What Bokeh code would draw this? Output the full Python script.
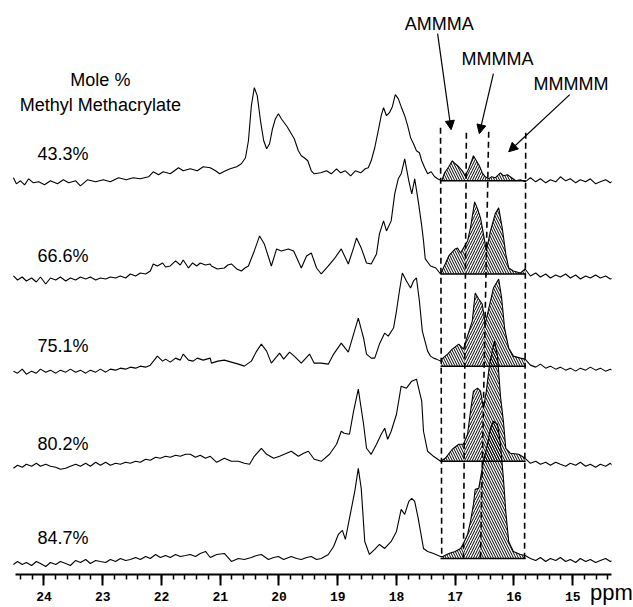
import numpy as np
from bokeh.plotting import figure
from bokeh.models import Range1d, FixedTicker, ColumnDataSource, Arrow, NormalHead
from bokeh.core.properties import value, field
from bokeh.embed import file_html
from bokeh.resources import INLINE

# ---- data: (ppm, intensity) ---------------------------------------------
t433 = [(24.52,4),(24.47,-2),(24.40,1),(24.33,-3),(24.26,3),(24.18,-1),(24.09,0),(23.99,-3),(23.89,1),(23.77,-2),(23.67,2),(23.58,-1),(23.46,1),(23.38,-4),(23.26,2),(23.12,0),(22.99,2),(22.87,0),(22.73,4),(22.60,2),(22.48,4),(22.36,3),(22.22,5),(22.14,10),(22.05,7),(21.97,10),(21.85,8),(21.71,14),(21.63,11),(21.51,13),(21.39,11),(21.29,15),(21.17,14),(21.08,11),(21.01,8),(20.91,11),(20.83,13),(20.72,15),(20.64,18),(20.57,24),(20.52,41),(20.47,76),(20.42,94),(20.37,86),(20.31,59),(20.26,41),(20.21,33),(20.16,38),(20.11,53),(20.06,63),(20.01,68),(19.96,63),(19.91,59),(19.86,55),(19.80,49),(19.74,43),(19.67,31),(19.62,26),(19.57,24),(19.51,21),(19.45,11),(19.40,8),(19.29,9),(19.19,11),(19.11,8),(19.02,13),(18.95,9),(18.87,11),(18.78,6),(18.70,11),(18.61,9),(18.53,13),(18.48,14),(18.43,21),(18.37,34),(18.31,51),(18.26,66),(18.22,74),(18.17,66),(18.12,69),(18.07,75),(18.02,87),(17.97,83),(17.92,75),(17.86,66),(17.81,56),(17.76,44),(17.71,38),(17.66,31),(17.61,29),(17.57,21),(17.52,14),(17.47,8),(17.41,10),(17.35,5),(17.30,3),(17.23,1),(17.18,9),(17.11,15),(17.05,21),(17.00,18),(16.94,15),(16.88,11),(16.83,6),(16.77,13),(16.72,21),(16.69,26),(16.64,21),(16.59,16),(16.54,9),(16.49,5),(16.43,3),(16.38,5),(16.32,4),(16.23,9),(16.18,6),(16.11,7),(16.04,4),(15.97,1),(15.89,2),(15.81,0),(15.72,4),(15.63,0),(15.55,3),(15.46,-1),(15.38,2),(15.29,0),(15.21,5),(15.12,1),(15.04,3),(14.95,-1),(14.87,2),(14.78,0),(14.70,3),(14.61,-2),(14.53,0),(14.44,2),(14.36,-1),(14.27,3),(14.19,0),(14.10,1),(14.02,3),(13.97,1)]

t666 = [(24.52,2),(24.45,-2),(24.37,1),(24.30,-3),(24.21,0),(24.13,-4),(24.06,1),(23.97,-6),(23.89,0),(23.80,-2),(23.72,1),(23.63,-3),(23.55,0),(23.46,-2),(23.38,1),(23.29,-1),(23.21,1),(23.12,-2),(23.04,0),(22.95,-1),(22.87,1),(22.78,0),(22.70,2),(22.61,0),(22.53,4),(22.44,2),(22.36,5),(22.27,4),(22.19,7),(22.14,14),(22.07,12),(21.98,15),(21.93,11),(21.85,12),(21.76,17),(21.68,13),(21.63,18),(21.54,10),(21.47,15),(21.40,12),(21.34,15),(21.25,13),(21.17,14),(21.15,12),(21.05,9),(20.93,10),(20.87,13),(20.81,14),(20.72,9),(20.64,7),(20.58,10),(20.52,12),(20.42,27),(20.33,42),(20.25,34),(20.13,12),(20.04,29),(19.96,27),(19.84,29),(19.75,27),(19.62,10),(19.53,22),(19.45,25),(19.36,10),(19.28,4),(19.16,12),(19.06,19),(18.94,29),(18.82,14),(18.73,30),(18.68,40),(18.60,30),(18.51,15),(18.43,14),(18.34,24),(18.29,44),(18.22,57),(18.17,47),(18.09,57),(18.03,84),(17.97,99),(17.92,104),(17.86,119),(17.79,97),(17.74,84),(17.69,99),(17.63,77),(17.57,52),(17.54,37),(17.51,19),(17.42,12),(17.33,10),(17.25,4),(17.17,14),(17.11,22),(17.08,24),(17.00,29),(16.96,30),(16.91,25),(16.86,30),(16.79,37),(16.74,50),(16.67,76),(16.62,69),(16.57,60),(16.52,44),(16.47,27),(16.40,47),(16.32,64),(16.26,70),(16.20,50),(16.14,24),(16.09,10),(16.01,7),(15.89,5),(15.81,9),(15.72,2),(15.63,5),(15.55,1),(15.46,4),(15.38,0),(15.29,3),(15.21,1),(15.12,4),(15.04,0),(14.95,3),(14.87,-1),(14.78,2),(14.70,0),(14.61,3),(14.53,0),(14.44,2),(14.36,-1),(14.27,1),(14.19,3),(14.10,0),(14.02,5),(13.97,2)]

t751 = [(24.52,0),(24.45,-2),(24.37,2),(24.30,-3),(24.21,0),(24.13,-2),(24.06,2),(23.97,-1),(23.89,1),(23.80,-2),(23.72,1),(23.63,-1),(23.55,2),(23.46,-1),(23.38,1),(23.29,-2),(23.21,1),(23.12,-1),(23.04,2),(22.95,-1),(22.87,2),(22.78,1),(22.70,3),(22.61,2),(22.53,4),(22.44,3),(22.36,5),(22.27,4),(22.19,6),(22.07,15),(21.98,10),(21.93,12),(21.85,9),(21.76,13),(21.68,11),(21.63,17),(21.54,11),(21.46,10),(21.39,13),(21.29,11),(21.17,13),(21.15,8),(21.04,10),(20.93,11),(20.81,9),(20.69,7),(20.59,5),(20.47,10),(20.38,20),(20.30,27),(20.21,20),(20.13,8),(19.99,18),(19.92,12),(19.82,19),(19.74,15),(19.62,8),(19.48,17),(19.40,8),(19.28,8),(19.16,7),(19.07,17),(18.94,28),(18.82,19),(18.73,37),(18.65,53),(18.56,33),(18.51,17),(18.43,13),(18.37,13),(18.29,27),(18.20,38),(18.14,35),(18.05,43),(18.00,60),(17.95,80),(17.90,98),(17.83,90),(17.76,83),(17.71,90),(17.66,93),(17.61,70),(17.56,40),(17.47,20),(17.42,15),(17.37,13),(17.32,12),(17.25,10),(17.21,13),(17.13,17),(17.05,22),(16.94,27),(16.86,22),(16.83,28),(16.71,50),(16.66,78),(16.60,72),(16.54,67),(16.49,47),(16.40,70),(16.35,83),(16.26,92),(16.21,73),(16.16,43),(16.09,23),(16.01,15),(15.89,13),(15.81,12),(15.72,6),(15.63,4),(15.55,7),(15.46,3),(15.38,5),(15.29,2),(15.21,4),(15.12,1),(15.04,3),(14.95,0),(14.87,3),(14.78,1),(14.70,4),(14.61,1),(14.53,3),(14.44,0),(14.36,2),(14.27,-1),(14.19,2),(14.10,0),(14.02,3),(13.97,1)]

t802 = [(24.52,-2),(24.45,1),(24.37,-1),(24.30,2),(24.21,0),(24.13,3),(24.06,0),(23.97,2),(23.89,0),(23.80,-1),(23.72,-3),(23.63,-2),(23.55,0),(23.46,2),(23.38,0),(23.29,3),(23.21,0),(23.12,4),(23.04,1),(22.95,4),(22.87,1),(22.78,3),(22.70,2),(22.61,4),(22.53,3),(22.44,5),(22.36,4),(22.27,7),(22.19,6),(22.10,9),(22.02,8),(21.93,10),(21.85,9),(21.76,11),(21.68,10),(21.59,12),(21.51,12),(21.42,9),(21.34,11),(21.25,8),(21.17,10),(21.06,4),(20.93,8),(20.81,5),(20.69,5),(20.59,3),(20.50,2),(20.42,10),(20.30,18),(20.21,12),(20.09,8),(19.99,10),(19.87,13),(19.79,15),(19.67,10),(19.58,13),(19.50,15),(19.40,7),(19.28,5),(19.14,12),(19.02,22),(18.94,35),(18.89,33),(18.80,32),(18.73,55),(18.65,77),(18.56,42),(18.51,18),(18.43,12),(18.34,22),(18.26,32),(18.20,38),(18.15,27),(18.09,35),(18.00,52),(17.92,80),(17.83,78),(17.74,85),(17.66,87),(17.57,65),(17.54,35),(17.47,15),(17.37,10),(17.25,5),(17.17,8),(17.05,17),(16.94,22),(16.86,22),(16.79,32),(16.74,55),(16.69,75),(16.62,78),(16.57,75),(16.52,58),(16.47,75),(16.42,100),(16.37,115),(16.33,125),(16.28,110),(16.23,70),(16.18,45),(16.14,18),(16.06,13),(15.92,12),(15.81,8),(15.72,3),(15.63,5),(15.55,2),(15.46,4),(15.38,1),(15.29,4),(15.21,2),(15.12,0),(15.04,3),(14.95,1),(14.87,4),(14.78,0),(14.70,2),(14.61,-1),(14.53,2),(14.44,0),(14.36,3),(14.27,-2),(14.19,1),(14.10,-1),(14.02,2),(13.97,0)]

t847 = [(24.52,-1),(24.45,2),(24.37,-1),(24.30,1),(24.21,-2),(24.13,2),(24.06,0),(23.97,-3),(23.89,1),(23.80,-1),(23.72,2),(23.63,0),(23.55,-2),(23.46,3),(23.38,1),(23.29,4),(23.21,0),(23.12,3),(23.04,2),(22.95,1),(22.87,4),(22.78,2),(22.70,5),(22.61,3),(22.53,4),(22.44,6),(22.36,4),(22.27,7),(22.19,5),(22.10,9),(22.02,6),(21.93,8),(21.85,6),(21.76,9),(21.68,7),(21.59,8),(21.51,9),(21.42,7),(21.34,10),(21.25,12),(21.17,6),(21.06,9),(20.93,10),(20.81,2),(20.69,5),(20.59,4),(20.47,6),(20.38,8),(20.30,9),(20.18,4),(20.09,6),(20.01,7),(19.92,4),(19.79,7),(19.70,5),(19.62,4),(19.53,6),(19.45,7),(19.36,4),(19.28,5),(19.16,9),(19.07,17),(18.99,29),(18.92,33),(18.87,24),(18.80,45),(18.71,72),(18.65,95),(18.60,75),(18.54,22),(18.46,9),(18.37,14),(18.29,19),(18.20,15),(18.09,22),(18.00,32),(17.92,54),(17.86,49),(17.79,62),(17.74,65),(17.69,62),(17.63,45),(17.57,25),(17.54,15),(17.47,12),(17.37,10),(17.25,7),(17.21,7),(17.11,10),(17.00,12),(16.91,15),(16.86,20),(16.79,29),(16.74,42),(16.69,59),(16.66,74),(16.60,75),(16.57,85),(16.52,102),(16.45,119),(16.40,135),(16.35,142),(16.28,139),(16.23,119),(16.18,85),(16.14,52),(16.09,22),(16.01,12),(15.89,9),(15.81,8),(15.72,5),(15.63,3),(15.55,6),(15.46,2),(15.38,5),(15.29,3),(15.21,6),(15.12,2),(15.04,4),(14.95,1),(14.87,5),(14.78,2),(14.70,4),(14.61,1),(14.53,3),(14.44,5),(14.36,2),(14.27,4),(14.19,1),(14.10,3),(14.02,4),(13.97,2)]

traces = [t433, t666, t751, t802, t847]
sample_labels = ["43.3%", "66.6%", "75.1%", "80.2%", "84.7%"]
trace_offsets = [392, 296, 203, 108, 11]       # vertical stacking
hatch_base = [1, 4, 5, 5, 5]                   # integration baseline level
region_names = ["AMMMA", "MMMMA", "MMMMM"]

# dashed boundary lines of the integrated regions (ppm at top / bottom)
dash_top_ppm = [17.25, 16.81, 16.43, 15.80]
dash_bot_ppm = [17.23, 16.86, 16.57, 15.82]
dash_top_y = [446, 441, 442, 441]
dash_bot_y = [16, 16, 16, 16]
region_span = (17.25, 15.80)

tick_values = list(range(15, 25))
minor_values = [round(14.4 + 0.2 * i, 1) for i in range(51)]

# ---- figure --------------------------------------------------------------
p = figure(width=633, height=607, x_range=Range1d(24.740, 14.340),
           y_range=Range1d(0, 573), output_backend="svg", toolbar_location=None,
           y_axis_location=None, min_border=0, min_border_right=22)
p.outline_line_color = None
p.grid.visible = False

hatches = ["\\", "/", "\\"]
rx, ry, rp = [], [], []
for i, tr in enumerate(traces):
    px = np.array([a for a, b in tr])
    py = np.array([b for a, b in tr], dtype=float) + trace_offsets[i]
    base = trace_offsets[i] + hatch_base[i]
    bounds = []
    for k in range(4):
        t = (dash_top_y[k] - base) / (dash_top_y[k] - dash_bot_y[k])
        bounds.append(dash_top_ppm[k] + (dash_bot_ppm[k] - dash_top_ppm[k]) * t)
    for j in range(3):
        bl, br = bounds[j], bounds[j + 1]
        m = (px < bl) & (px > br)
        yl = float(np.interp(bl, px[::-1], py[::-1]))
        yr = float(np.interp(br, px[::-1], py[::-1]))
        rx.append([bl, bl] + list(px[m]) + [br, br])
        ry.append([base, yl] + list(py[m]) + [yr, base])
        rp.append(hatches[j])
    p.line(px, py, line_color="black", line_width=1.1)

src = ColumnDataSource(dict(xs=rx, ys=ry, pat=rp))
p.patches(xs="xs", ys="ys", source=src, fill_color=None, line_color=None,
          hatch_pattern=field("pat"), hatch_color="black", hatch_scale=5,
          hatch_weight=1.0)

bases = [o + h for o, h in zip(trace_offsets, hatch_base)]
p.segment(x0=[region_span[0]] * 5, x1=[region_span[1]] * 5, y0=bases, y1=bases,
          line_color="black", line_width=1.5)

p.segment(x0=dash_top_ppm, y0=dash_top_y, x1=dash_bot_ppm, y1=dash_bot_y,
          line_color="black", line_width=1.6, line_dash="6 4")

font = value("Liberation Sans")
p.text(x=[24.11] * 5, y=[420, 318, 228, 130, 36], text=sample_labels,
       text_font=font, text_font_size="18px", text_baseline="middle",
       text_align="left", text_color="black")
p.text(x=[23.04, 23.04], y=[494, 469], text=["Mole %", "Methyl Methacrylate"],
       text_font=font, text_font_size="18px", text_baseline="middle",
       text_align="center", text_color="black")
p.text(x=[17.27, 16.28, 15.03], y=[550, 515, 490], text=region_names,
       text_font=font, text_font_size="18px", text_baseline="middle",
       text_align="center", text_color="black")

arrows = [((17.30, 540), (17.07, 444)), ((16.35, 500), (16.59, 440)),
          ((15.05, 479), (16.09, 422))]
for (xs_, ys_), (xe, ye) in arrows:
    p.add_layout(Arrow(end=NormalHead(size=9, fill_color="black", line_color="black"),
                       x_start=xs_, y_start=ys_, x_end=xe, y_end=ye,
                       line_color="black", line_width=1.2))

ax = p.xaxis[0]
ax.ticker = FixedTicker(ticks=tick_values, minor_ticks=minor_values)
ax.bounds = (14.34, 24.49)
ax.major_label_text_font = "Liberation Mono"
ax.major_label_text_font_style = "bold"
ax.major_label_text_font_size = "13px"
ax.major_label_text_color = "black"
ax.major_tick_in = 0
ax.major_tick_out = 11
ax.minor_tick_in = 0
ax.minor_tick_out = 5
ax.axis_line_width = 2
ax.axis_line_color = "black"
ax.major_tick_line_width = 2
ax.minor_tick_line_width = 1.5
ax.major_label_standoff = 6
ax.axis_label = "ppm"
ax.axis_label_align = "start"
ax.axis_label_standoff = -24
ax.axis_label_text_font = "Liberation Sans"
ax.axis_label_text_font_style = "normal"
ax.axis_label_text_font_size = "22px"
ax.axis_label_text_color = "black"

open("out.html", "w").write(file_html(p, INLINE))
